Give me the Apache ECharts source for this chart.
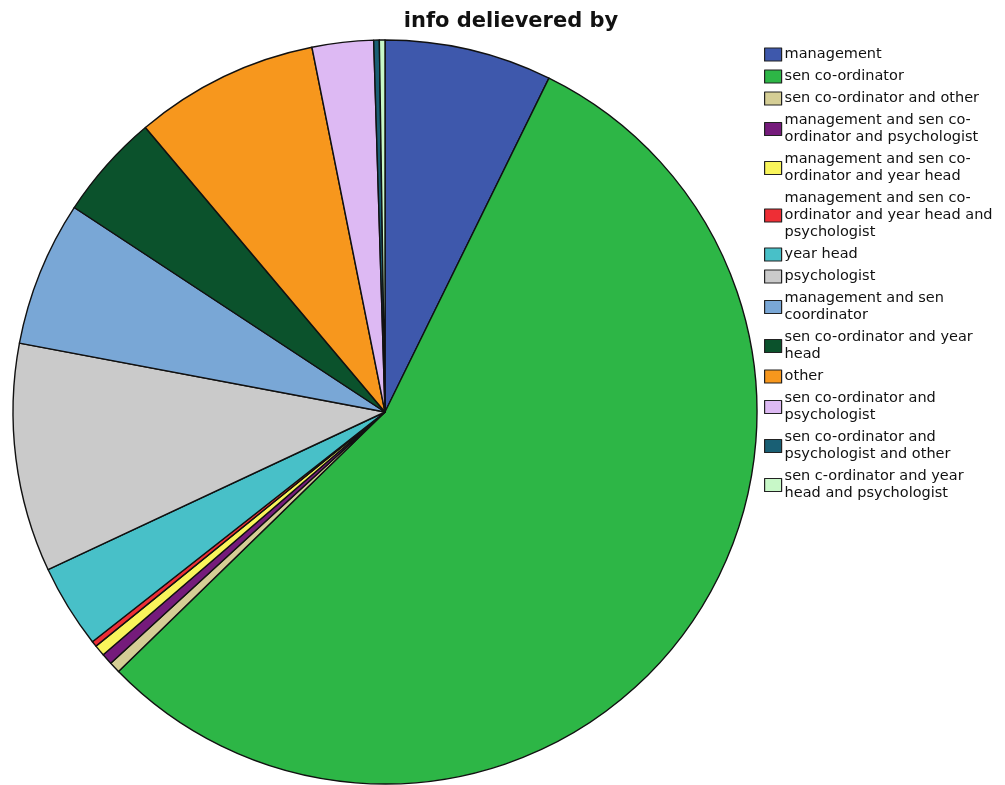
<!DOCTYPE html>
<html>
<head>
<meta charset="utf-8">
<script src="https://cdn.jsdelivr.net/npm/echarts@6/dist/echarts.min.js"></script>
<style>html,body{margin:0;padding:0;background:#fff}#c{width:1005px;height:785px}</style>
</head>
<body>
<div id="c"></div>
<script>
const categories = [
  "management",
  "sen co-ordinator",
  "sen co-ordinator and other",
  "management and sen co-ordinator and psychologist",
  "management and sen co-ordinator and year head",
  "management and sen co-ordinator and year head and psychologist",
  "year head",
  "psychologist",
  "management and sen coordinator",
  "sen co-ordinator and year head",
  "other",
  "sen co-ordinator and psychologist",
  "sen co-ordinator and psychologist and other",
  "sen c-ordinator and year head and psychologist"
];
const legendLabels = [
  "management",
  "sen co-ordinator",
  "sen co-ordinator and other",
  "management and sen co-\nordinator and psychologist",
  "management and sen co-\nordinator and year head",
  "management and sen co-\nordinator and year head and\npsychologist",
  "year head",
  "psychologist",
  "management and sen\ncoordinator",
  "sen co-ordinator and year\nhead",
  "other",
  "sen co-ordinator and\npsychologist",
  "sen co-ordinator and\npsychologist and other",
  "sen c-ordinator and year\nhead and psychologist"
];
const counts = [30, 229, 2, 2, 2, 1, 15, 41, 26, 19, 33, 11, 1, 1];
const colors = ["#3E58AC","#2DB646","#D5CE95","#751B7B","#F9F55B","#EE2E35","#48C0C8","#CACACA","#79A7D6","#0B522C","#F7971D","#DDB9F3","#195F74","#C8F8C8"];

const labelMap = {};
categories.forEach((c, i) => labelMap[c] = legendLabels[i]);

const chart = echarts.init(document.getElementById('c'), null, {renderer: 'canvas'});
chart.setOption({
  animation: false,
  backgroundColor: '#fff',
  title: {
    text: 'info delievered by',
    left: 506, top: 6, textAlign: 'center',
    textStyle: {fontFamily: 'DejaVu Sans', fontWeight: 'bold', fontSize: 21, color: '#111'}
  },
  legend: {
    orient: 'vertical',
    left: 759, top: 41,
    itemWidth: 17, itemHeight: 13, itemGap: 5,
    icon: 'rect',
    selectedMode: false,
    data: categories,
    formatter: n => labelMap[n],
    itemStyle: {borderColor: '#222', borderWidth: 1.2},
    textStyle: {fontFamily: 'DejaVu Sans', fontSize: 14.5, color: '#111', lineHeight: 17, padding: [0,0,0,-2]}
  },
  series: [{
    type: 'pie',
    center: [385, 412],
    radius: 372,
    startAngle: 90,
    clockwise: true,
    label: {show: false},
    labelLine: {show: false},
    emphasis: {disabled: true},
    itemStyle: {borderColor: '#111', borderWidth: 1.4},
    data: categories.map((c, i) => ({name: c, value: counts[i], itemStyle: {color: colors[i]}}))
  }]
});
</script>
</body>
</html>
